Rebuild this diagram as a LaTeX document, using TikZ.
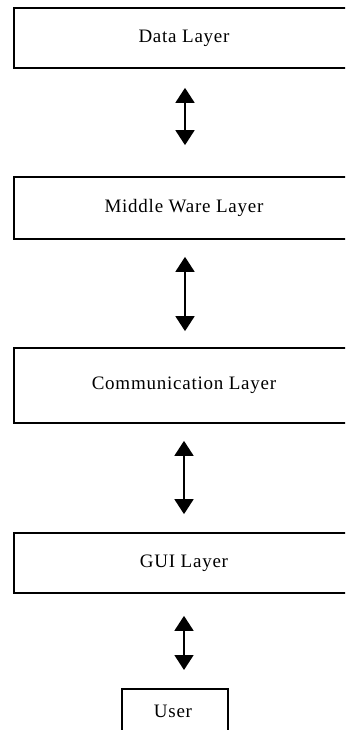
\documentclass[tikz,border=0pt]{standalone}
\usepackage{fontspec}
\setmainfont{Liberation Serif}[LetterSpace=4]
\usetikzlibrary{arrows.meta}
\begin{document}
\begin{tikzpicture}[x=1pt,y=-1pt,
  layer/.style={draw=black, line width=1.7pt, rectangle, inner sep=0pt,
    minimum width=340pt, font=\fontsize{19}{21}\selectfont},
  biarrow/.style={line width=1.7pt,
    {Triangle[width=19pt,length=15pt]}-{Triangle[width=19pt,length=15pt]}}]
  \clip (0,0) rectangle (345,730);
  \fill[white] (0,0) rectangle (345,730);

  % stacked layers
  \node[layer, minimum height=60pt] (data) at (184,38) {Data Layer};
  \node[layer, minimum height=62pt] (mid)  at (184,208) {Middle Ware Layer};
  \node[layer, minimum height=75pt] (comm) at (184,385.5) {Communication Layer};
  \node[layer, minimum height=60pt] (gui)  at (184,563) {GUI Layer};
  \node[layer, minimum width=106pt, minimum height=60pt, text depth=0pt,
        anchor=north] (user) at (175,688) {};
  \node[font=\fontsize{19}{21}\selectfont] (usertext) at (173,711) {User};

  % two-way links between neighbouring layers
  \draw[biarrow, shorten <=19pt, shorten >=31pt] (data.south -| 185,0) -- (mid.north -| 185,0);
  \draw[biarrow, shorten <=17pt, shorten >=16pt] (mid.south -| 185,0) -- (comm.north -| 185,0);
  \draw[biarrow, shorten <=17pt, shorten >=18pt] (comm.south -| 184,0) -- (gui.north -| 184,0);
  \draw[biarrow, shorten <=22pt, shorten >=18pt] (gui.south -| 184,0) -- (user.north -| 184,0);
\end{tikzpicture}
\end{document}
